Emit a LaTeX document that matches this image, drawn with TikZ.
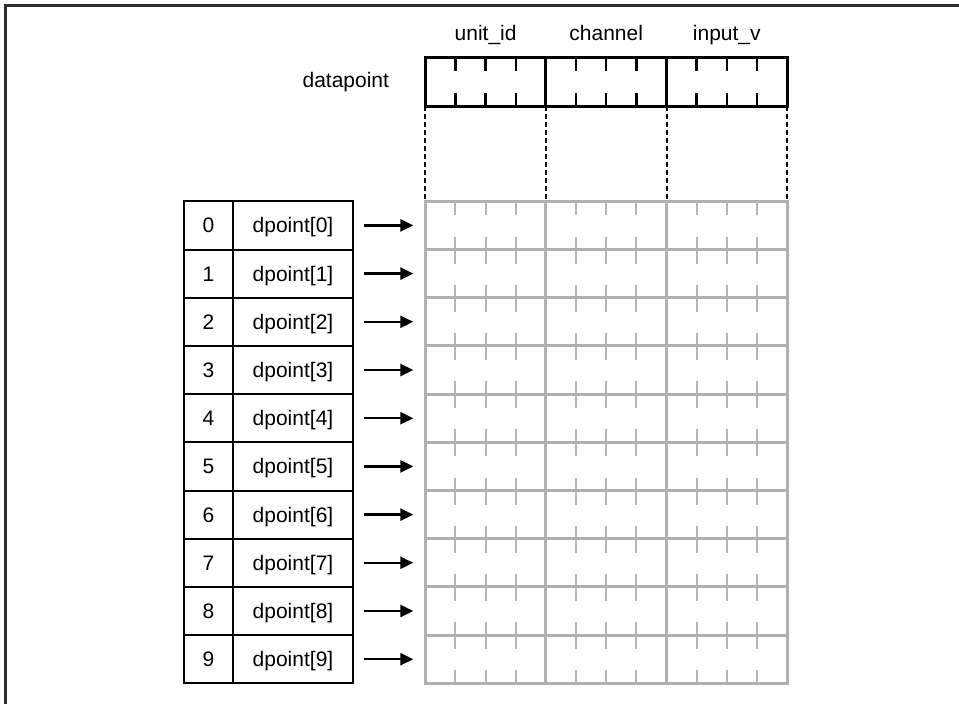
\documentclass[tikz,border=0pt]{standalone}
\usepackage{fontspec}
\setmainfont{Liberation Sans}
\usetikzlibrary{arrows.meta,positioning}

\begin{document}
\begin{tikzpicture}[x=1pt, y=-1pt,
    every node/.style={font=\fontsize{21}{25}\selectfont, inner sep=0pt, outer sep=0pt},
    idxcell/.style={draw, line width=2pt, minimum width=49pt, minimum height=48.2pt, text height=15pt, text depth=0pt, anchor=north west},
    namecell/.style={draw, line width=2pt, minimum width=120pt, minimum height=48.2pt, text height=15pt, text depth=0pt},
    fieldbox/.style={draw, line width=3pt, minimum width=120.6pt, minimum height=49pt, anchor=north west},
    gridrow/.style={draw=gridColour, line width=3pt, minimum width=361.8pt, minimum height=48.2pt, anchor=north west},
    tickline/.style={tickColour, line width=2pt},
    dashline/.style={line width=2pt, dash pattern=on 5pt off 3pt},
    pointer/.style={-{Triangle[length=13pt,width=12pt]}, line width=2.5pt, shorten <=11pt, shorten >=12pt}
]
    \def\rowH{48.2}
    \def\colW{120.6}
    \def\gridTop{201.3}
    \def\gridLeft{425.3}
    \definecolor{gridColour}{HTML}{B0B0B0}
    \definecolor{tickColour}{HTML}{B5B5B5}
    \definecolor{frameColour}{HTML}{2E2E2E}

    \useasboundingbox (0,0) rectangle (959,704);

    % Draw frame
    \draw[frameColour, line width=2.5pt] (5.5,704) -- (5.5,5.5) -- (959,5.5);

    % Datapoint structure
    \foreach \f/\lab [count=\c from 0] in {unitid/unit\_id, channel/channel, inputv/input\_v} {
        \node[fieldbox] (\f) at (\gridLeft+\colW*\c, 57) {};
        \node[anchor=base] (\f label) at (\gridLeft+\colW*\c+\colW/2, 40) {\lab};
        \foreach \k in {1,2,3} {
            \draw[line width=2.5pt] (\gridLeft+\colW*\c+\colW/4*\k, 57) -- ++(0,14);
            \draw[line width=2.5pt] (\gridLeft+\colW*\c+\colW/4*\k, 106) -- ++(0,-13);
        }
    }
    \node[anchor=base east] (dplabel) at (389,87) {datapoint};

    % Dashed guides down to the array
    \foreach \p in {unitid.south west, unitid.south east, channel.south east, inputv.south east}
        \draw[dashline] (\p) -- (\p |- {(\gridLeft,\gridTop)});

    % Pointer table and array rows
    \foreach \i in {0,...,9} {
        \node[idxcell] (idx\i) at (184, \gridTop+\rowH*\i) {\i};
        \node[namecell, right=0pt of idx\i] (name\i) {dpoint[\i]};
        \node[gridrow] (row\i) at (\gridLeft, \gridTop+\rowH*\i) {};
        \draw[pointer] (name\i) -- (row\i);
        \foreach \c in {0,1,2}
            \foreach \k in {1,2,3} {
                \draw[tickline] (\gridLeft+\colW*\c+\colW/4*\k, \gridTop+\rowH*\i) -- ++(0,14);
                \draw[tickline] (\gridLeft+\colW*\c+\colW/4*\k, \gridTop+\rowH*\i+\rowH) -- ++(0,-13);
            }
    }

    % Column dividers of the array
    \foreach \c in {1,2}
        \draw[gridColour, line width=3pt] (\gridLeft+\colW*\c, \gridTop) -- (\gridLeft+\colW*\c, \gridTop+\rowH*10);
\end{tikzpicture}
\end{document}
